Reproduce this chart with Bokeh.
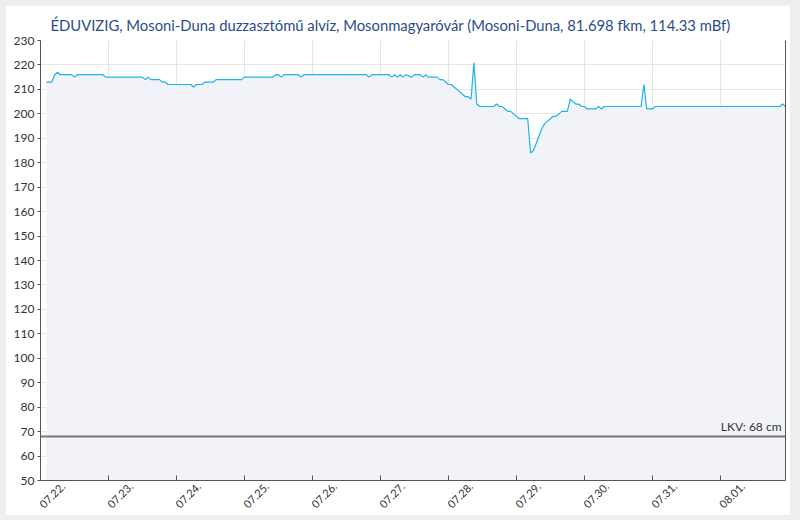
import math
from bokeh.plotting import figure
from bokeh.layouts import column
from bokeh.models import Range1d, FixedTicker, LinearAxis, Span, Label
from bokeh.embed import file_html
from bokeh.resources import INLINE

TITLE = "ÉDUVIZIG, Mosoni-Duna duzzasztómű alvíz, Mosonmagyaróvár (Mosoni-Duna, 81.698 fkm, 114.33 mBf)"

# hours since 07.22. 00:00 and water level (cm)
hours = [2, 4, 5, 6, 7, 11, 12, 13, 22, 23, 36, 37, 38, 39, 42, 43, 44, 45,
         53, 54, 55, 57, 58, 61, 62, 71, 72, 82, 83, 84, 85, 86, 91, 92, 93,
         115, 116, 117, 123, 124, 125, 126, 127, 128, 129, 131, 132, 134, 135,
         136, 137, 140, 141, 142, 143, 144, 145, 146, 147, 148, 149, 150, 151,
         152, 153, 154, 155, 160, 161, 162, 163, 164, 165, 166, 167, 168, 169,
         172, 173, 174, 175, 176, 177, 178, 179, 180, 181, 182, 183, 184, 186,
         187, 188, 189, 190, 191, 192, 193, 196, 197, 198, 199, 212, 213, 214,
         216, 217, 261, 262, 263]
levels = [213, 213, 216, 217, 216, 216, 215, 216, 216, 215, 215, 214, 215, 214, 214, 213, 213, 212,
          212, 211, 212, 212, 213, 213, 214, 214, 215, 215, 216, 216, 215, 216, 216, 215, 216,
          216, 215, 216, 216, 215, 216, 215, 216, 215, 216, 215, 216, 216, 215,
          216, 215, 215, 214, 214, 213, 212, 212, 211, 210, 209, 208, 207, 207,
          206, 221, 204, 203, 203, 204, 203, 203, 202, 201, 201, 200, 199, 198,
          198, 184, 185, 188, 191, 194, 196, 197, 198, 199, 199, 200, 201, 201,
          206, 205, 204, 204, 203, 203, 202, 202, 203, 202, 203, 203, 212, 202,
          202, 203, 203, 204, 203]

day_labels = ["07.22.", "07.23.", "07.24.", "07.25.", "07.26.", "07.27.",
              "07.28.", "07.29.", "07.30.", "07.31.", "08.01."]
y_ticks = list(range(50, 231, 10))
LKV = 68
LKV_TEXT = "LKV: 68 cm"

X_START, X_END = 0, 263
Y_MIN, Y_MAX = 50, 230
LABEL_SHIFT = 8

FONT = "Lato"

p = figure(width=785, height=510, output_backend="svg", toolbar_location=None,
           x_range=Range1d(X_START, X_END), y_range=Range1d(Y_MIN, Y_MAX),
           min_border_left=35, min_border_right=5, min_border_top=35, min_border_bottom=35,
           margin=(5, 10, 5, 5))

p.background_fill_color = "white"
p.border_fill_color = "white"
p.outline_line_color = None

p.title.text = TITLE
p.title.text_font = FONT
p.title.text_font_size = "14.8px"
p.title.text_font_style = "normal"
p.title.text_color = "#2b4c8c"
p.title.align = "left"
p.title.offset = 10
p.title.standoff = 14

p.varea(x=hours, y1=Y_MIN, y2=levels, fill_color="#f2f3f8")
p.line(hours, levels, line_color="#1db4ea", line_width=1.2)

p.add_layout(Span(location=LKV, dimension="width", line_color="#777777", line_width=2))
p.add_layout(Label(x=X_END, y=LKV, text=LKV_TEXT, text_align="right", text_baseline="bottom",
                   x_offset=-4, y_offset=3, text_font_size="12px", text_color="#333333",
                   text_font=FONT))

day_ticks = [24 * i for i in range(len(day_labels))]

xa = p.xaxis[0]
xa.ticker = FixedTicker(ticks=day_ticks)
xa.axis_line_color = "#555555"
xa.major_tick_line_color = "#555555"
xa.major_tick_in = 5
xa.major_tick_out = 0
xa.minor_tick_line_color = None
xa.major_label_standoff = 0
xa.major_label_text_font_size = "0px"
xa.major_label_overrides = {t: "" for t in day_ticks}

shifted = [t + LABEL_SHIFT for t in day_ticks]
xl = LinearAxis(ticker=FixedTicker(ticks=shifted),
                major_label_overrides={t: lab for t, lab in zip(shifted, day_labels)},
                major_label_orientation=math.pi / 4,
                axis_line_color=None, major_tick_line_color=None, minor_tick_line_color=None,
                major_tick_in=0, major_tick_out=0,
                major_label_text_font=FONT, major_label_text_font_size="11px",
                major_label_text_color="#333333", major_label_standoff=4)
p.add_layout(xl, "below")

ya = p.yaxis[0]
ya.ticker = FixedTicker(ticks=y_ticks)
ya.axis_line_color = "#555555"
ya.major_tick_line_color = "#555555"
ya.major_tick_in = 0
ya.major_tick_out = 3
ya.minor_tick_line_color = None
ya.major_label_text_font = FONT
ya.major_label_text_font_size = "12px"
ya.major_label_text_color = "#333333"
ya.major_label_standoff = 3

ra = LinearAxis(ticker=FixedTicker(ticks=[]), axis_line_color="#555555",
                major_tick_line_color=None, minor_tick_line_color=None, major_label_standoff=0)
p.add_layout(ra, "right")

p.xgrid.ticker = FixedTicker(ticks=day_ticks)
p.xgrid.grid_line_color = "#e6e6e6"
p.ygrid.ticker = FixedTicker(ticks=y_ticks)
p.ygrid.grid_line_color = "#e6e6e6"

page = column(p, styles={"background-color": "#eeeeee"})

open("out.html", "w").write(file_html(page, INLINE))
